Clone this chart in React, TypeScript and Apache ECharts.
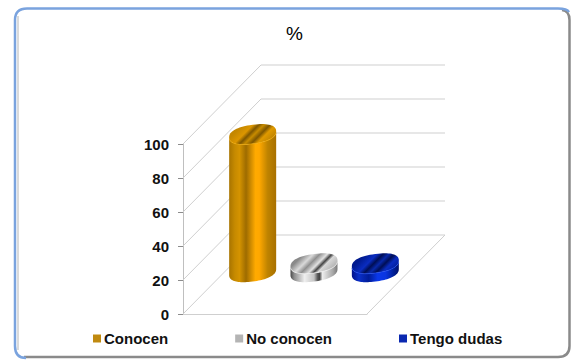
import React, { useEffect, useRef } from "react";
import * as echarts from "echarts";

const categories = ["Conocen", "No conocen", "Tengo dudas"];
const values = [81, 5, 5];
const yTicks = [0, 20, 40, 60, 80, 100];
const titleText = "%";

type Stop = [number, string];
const sideStops: Stop[][] = [
  [[0, "#A87400"], [0.12, "#C68A00"], [0.22, "#D49300"], [0.36, "#9E6C00"], [0.56, "#FFAA00"], [0.64, "#FFA800"], [0.82, "#BE8300"], [1, "#A87000"]],
  [[0, "#4A4A4A"], [0.08, "#8E8E8E"], [0.3, "#EFEFEF"], [0.5, "#C4C4C4"], [0.58, "#555555"], [0.62, "#444444"], [0.68, "#EDEDED"], [0.9, "#A8A8A8"], [1, "#7A7A7A"]],
  [[0, "#00108A"], [0.15, "#0A2FC8"], [0.36, "#001C98"], [0.55, "#0A38EA"], [0.72, "#0A35E0"], [0.88, "#00209A"], [1, "#00106A"]],
];
const topStops: Stop[][] = [
  [[0, "#C48700"], [0.22, "#DC9600"], [0.34, "#7E5600"], [0.45, "#C88C00"], [0.58, "#7E5600"], [0.7, "#E09A00"], [1, "#B47C00"]],
  [[0, "#8A8A8A"], [0.2, "#DADADA"], [0.34, "#909090"], [0.5, "#E2E2E2"], [0.6, "#444444"], [0.68, "#D8D8D8"], [1, "#A6A6A6"]],
  [[0, "#001A8E"], [0.25, "#0A2CC0"], [0.38, "#000E55"], [0.5, "#0828A8"], [0.62, "#000E55"], [0.75, "#0A2CC0"], [1, "#001A8E"]],
];
const rimColors = ["#F0A800", "#F2F2F2", "#1A48F0"];
const legendColors = ["#C08A10", "#B4B4B4", "#0A28B0"];

// Oblique projection of the floor and the cylinder footprint.
const DEPTH_X = 78;
const DEPTH_Y = 79;
const BAR_DX = 39;
const BAR_DY = 42;
const RX = 23.5;
const RY = 9.5;
const TILT = 3;
// Exponent below 1 squares the ellipse slightly, giving fuller shoulders.
const ROUNDNESS = 0.85;

const softPow = (v: number) => Math.sign(v) * Math.pow(Math.abs(v), ROUNDNESS);

const ellipsePoint = (cx: number, cy: number, t: number) => {
  const c = softPow(Math.cos(t));
  const s = softPow(Math.sin(t));
  return [cx + RX * c, cy + RY * s - TILT * c];
};

const ellipseArc = (cx: number, cy: number, from: number, to: number, n = 48) =>
  Array.from({ length: n + 1 }, (_, i) => ellipsePoint(cx, cy, from + ((to - from) * i) / n));

const sideGradient = (cx: number, stops: Stop[]) =>
  new echarts.graphic.LinearGradient(
    cx - RX, 0, cx + RX, 0,
    stops.map(([offset, color]) => ({ offset, color })),
    true
  );

// Top-face stripes run along the depth direction, up and to the right.
const topGradient = (cx: number, cy: number, stops: Stop[]) => {
  const d = RX / 2;
  return new echarts.graphic.LinearGradient(
    cx - d + 2, cy - d + 2, cx + d + 2, cy + d + 2,
    stops.map(([offset, color]) => ({ offset, color })),
    true
  );
};

const cylinderItem = (index: number) => (_params: any, api: any) => {
  const base = api.coord([api.value(0), 0]);
  const top = api.coord([api.value(0), api.value(1)]);
  const cx = base[0] + BAR_DX;
  const baseY = base[1] - BAR_DY;
  const topY = top[1] - BAR_DY;
  const side = [
    ...ellipseArc(cx, topY, Math.PI, 0),
    ...ellipseArc(cx, baseY, 0, Math.PI),
  ];
  return {
    type: "group",
    children: [
      { type: "polygon", shape: { points: side }, style: { fill: sideGradient(cx, sideStops[index]) } },
      {
        type: "polygon",
        shape: { points: ellipseArc(cx, topY, 0, Math.PI * 2, 72) },
        style: { fill: topGradient(cx, topY, topStops[index]) },
      },
      {
        type: "polyline",
        shape: { points: ellipseArc(cx, topY, 0.15, Math.PI - 0.15) },
        style: { fill: "none", stroke: rimColors[index], lineWidth: 1, opacity: 0.75 },
      },
    ],
  };
};

// Side-wall and back-wall gridlines, plus the right edge of the floor.
const wallItem = (params: any, api: any) => {
  const v = api.value(1);
  const y = api.coord([0, v])[1];
  const x0 = params.coordSys.x;
  const x1 = x0 + params.coordSys.width;
  const line = { stroke: "#CFCFCF", lineWidth: 1, fill: "none" };
  const children: any[] = [
    {
      type: "polyline",
      shape: { points: [[x0, y], [x0 + DEPTH_X, y - DEPTH_Y], [x1 + DEPTH_X, y - DEPTH_Y]] },
      style: line,
    },
  ];
  if (v === 0) {
    children.push({
      type: "line",
      shape: { x1, y1: y, x2: x1 + DEPTH_X, y2: y - DEPTH_Y },
      style: line,
    });
  }
  return { type: "group", children };
};

echarts.graphic.registerShape(
  "frameBlue",
  echarts.graphic.extendPath("M26 358 Q15 358 15 346 L15 20 Q15 8.5 27 8.5 L558 8.5 Q567 8.5 569 12", {})
);
echarts.graphic.registerShape(
  "frameGray",
  echarts.graphic.extendPath("M562 10 Q569.5 11 569.5 20 L569.5 346 Q569.5 357 558 357 L24 357", {})
);

export default function App() {
  const ref = useRef<HTMLDivElement>(null);
  useEffect(() => {
    const chart = echarts.init(ref.current!, undefined, { renderer: "svg" });
    const textStyle = { fontFamily: "Liberation Sans", color: "#111111", fontWeight: "bold" as const };
    chart.setOption({
      animation: false,
      backgroundColor: "#FFFFFF",
      title: {
        text: titleText,
        left: 286,
        top: 24,
        padding: 0,
        textStyle: { fontFamily: "Liberation Sans", fontSize: 19, fontWeight: "normal", color: "#000000" },
      },
      grid: { left: 183, right: 206, top: 144, bottom: 46 },
      xAxis: {
        type: "category",
        data: categories,
        axisTick: { show: false },
        axisLabel: { show: false },
        axisLine: { lineStyle: { color: "#CFCFCF", width: 1 } },
      },
      yAxis: {
        type: "value",
        min: yTicks[0],
        max: yTicks[yTicks.length - 1],
        interval: 20,
        splitLine: { show: false },
        axisLine: { show: true, lineStyle: { color: "#BFBFBF", width: 1 } },
        axisTick: { show: true, length: 5, lineStyle: { color: "#8C8C8C", width: 1 } },
        axisLabel: { ...textStyle, fontSize: 15, margin: 14 },
      },
      legend: {
        left: 93,
        top: 331,
        padding: 0,
        itemGap: 67,
        itemWidth: 8,
        itemHeight: 8,
        icon: "rect",
        textStyle: { ...textStyle, fontSize: 15, padding: [0, 0, 0, -2] },
        data: categories,
      },
      graphic: [
        { type: "frameGray", z: 10, silent: true, style: { fill: "none", stroke: "#8A8A8A", lineWidth: 2.5 } },
        { type: "line", z: 10, silent: true, shape: { x1: 18, y1: 16, x2: 18, y2: 350 }, style: { stroke: "#DADADA", lineWidth: 2 } },
        { type: "frameBlue", z: 11, silent: true, style: { fill: "none", stroke: "#7AA3DE", lineWidth: 2.5 } },
      ],
      series: [
        {
          name: "walls",
          type: "custom",
          z: 1,
          silent: true,
          renderItem: wallItem,
          data: yTicks.map((v) => [categories[0], v]),
        },
        ...categories.map((name, i) => ({
          name,
          type: "custom",
          z: 2,
          itemStyle: { color: legendColors[i] },
          renderItem: cylinderItem(i),
          data: [[name, values[i]]],
        })),
      ],
    });
    return () => chart.dispose();
  }, []);
  return <div ref={ref} style={{ position: "absolute", left: 0, top: 0, width: 573, height: 360 }} />;
}
